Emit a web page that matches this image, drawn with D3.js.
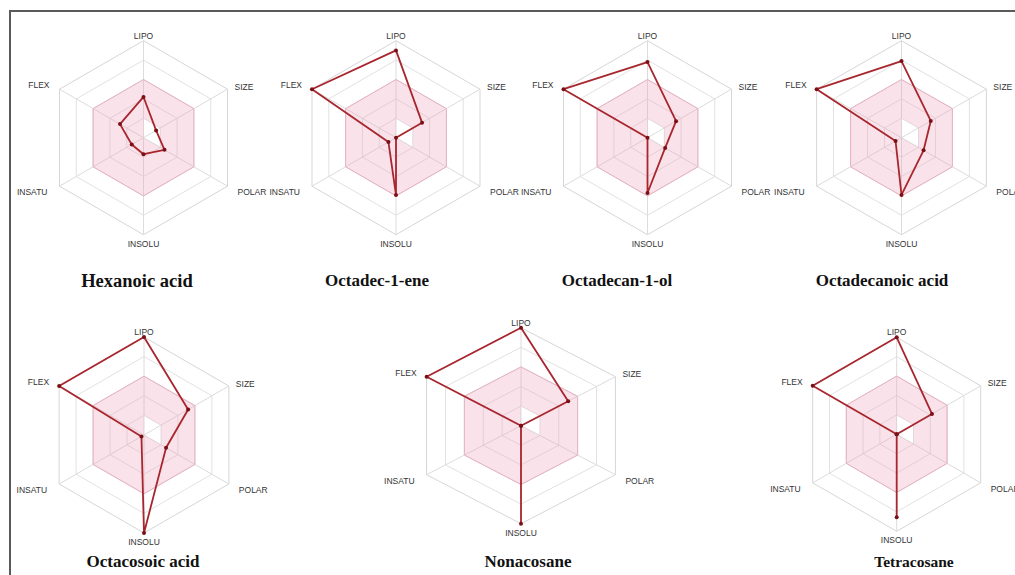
<!DOCTYPE html>
<html>
<head>
<meta charset="utf-8">
<script src="https://cdn.jsdelivr.net/npm/d3@7"></script>
<style>
  html, body { margin: 0; padding: 0; background: #fff; }
  svg { display: block; }
</style>
</head>
<body>
<script>
// radar axes, clockwise from top
const axes = ["LIPO", "SIZE", "POLAR", "INSOLU", "INSATU", "FLEX"];
const compounds = [
  "Hexanoic acid",
  "Octadec-1-ene",
  "Octadecan-1-ol",
  "Octadecanoic acid",
  "Octacosoic acid",
  "Nonacosane",
  "Tetracosane"
];

// values as a fraction of the outer ring (order follows axes)
const hexanoicAcid = [0.42, 0.15, 0.25, 0.17, 0.14, 0.28];
const octadec1ene = [0.9, 0.31, 0, 0.59, 0.09, 1.0];
const octadecan1ol = [0.78, 0.34, 0.21, 0.57, 0, 1.0];
const octadecanoicAcid = [0.79, 0.345, 0.26, 0.59, 0.07, 1.0];
const octacosoicAcid = [1.0, 0.52, 0.26, 1.0, 0.03, 1.0];
const nonacosane = [1.0, 0.5, 0, 1.0, 0, 1.0];
const tetracosane = [1.0, 0.42, 0, 0.855, 0, 1.0];

// optimal (pink) zone, inner and outer limits
const pinkInner = [0.2, 0.2, 0.2, 0, 0, 0];
const pinkOuter = [0.6, 0.6, 0.6, 0.6, 0.6, 0.6];
const rings = [0.2, 0.4, 0.6, 0.8, 1.0];

const series = [hexanoicAcid, octadec1ene, octadecan1ol, octadecanoicAcid,
  octacosoicAcid, nonacosane, tetracosane];

// panel layout: centre, radii, title position
const panels = [
  { cx: 143.5, cy: 137.7, rx: 97, ry: 97, tx: 137, ty: 287, ts: 18.5 },
  { cx: 396, cy: 137.7, rx: 97, ry: 97, tx: 377, ty: 286, ts: 17 },
  { cx: 647.5, cy: 137.7, rx: 97, ry: 97, tx: 617, ty: 286, ts: 17 },
  { cx: 901.5, cy: 137.7, rx: 98, ry: 97, tx: 882, ty: 286, ts: 17 },
  { cx: 144, cy: 435, rx: 98, ry: 98, tx: 143, ty: 566.5, ts: 17 },
  { cx: 521, cy: 425.7, rx: 109, ry: 98, tx: 528, ty: 566.5, ts: 17 },
  { cx: 896.7, cy: 434.3, rx: 97, ry: 97, tx: 914, ty: 566.5, ts: 15.5 }
];

// label placement for each axis
const labelPos = [
  { anchor: "middle", dx: 0, dy: -5 },
  { anchor: "start", dx: 7, dy: -2.5 },
  { anchor: "start", dx: 10, dy: 6 },
  { anchor: "middle", dx: 0, dy: 9 },
  { anchor: "end", dx: -12, dy: 6 },
  { anchor: "end", dx: -10, dy: -4 }
];

const width = 1015,
  height = 575;

const svg = d3
  .select("body")
  .append("svg")
  .attr("width", width)
  .attr("height", height);

// frame (top and left edges visible)
svg
  .append("path")
  .attr("d", `M10,${height + 5} L10,11 L${width + 5},11`)
  .attr("fill", "none")
  .attr("stroke", "#5a5a5a")
  .attr("stroke-width", 2);

const angle = d3
  .scaleLinear()
  .domain([0, axes.length])
  .range([0, 2 * Math.PI]);

const line = d3.line().curve(d3.curveLinearClosed);

panels.forEach((p, k) => {
  const sx = d3.scaleLinear().domain([0, 1]).range([0, p.rx]);
  const sy = d3.scaleLinear().domain([0, 1]).range([0, p.ry]);
  const pt = (v, i) => [
    p.cx + sx(v) * Math.sin(angle(i)),
    p.cy - sy(v) * Math.cos(angle(i))
  ];

  const g = svg.append("g");

  // grid rings
  g.selectAll(".ring")
    .data(rings)
    .enter()
    .append("path")
    .attr("d", (r) => line(axes.map((a, i) => pt(r, i))))
    .attr("fill", "none")
    .attr("stroke", (r) => (r === 1 ? "#d6d6d6" : "#e2e2e2"))
    .attr("stroke-width", 1);

  // axis spokes
  g.selectAll(".spoke")
    .data(axes)
    .enter()
    .append("line")
    .attr("x1", p.cx)
    .attr("y1", p.cy)
    .attr("x2", (a, i) => pt(1, i)[0])
    .attr("y2", (a, i) => pt(1, i)[1])
    .attr("stroke", "#dcdcdc")
    .attr("stroke-width", 1);

  // pink optimal zone with the inner hole
  const outerPts = pinkOuter.map((v, i) => pt(v, i));
  const innerPts = pinkInner.map((v, i) => pt(v, i));
  g.append("path")
    .attr("d", line(outerPts) + line(innerPts))
    .attr("fill", "#f0a0b8")
    .attr("fill-opacity", 0.3)
    .attr("fill-rule", "evenodd")
    .attr("stroke", "none");
  g.append("path")
    .attr("d", line(outerPts))
    .attr("fill", "none")
    .attr("stroke", "#e6b3c2")
    .attr("stroke-width", 1);

  // compound polygon
  const vals = series[k];
  g.append("path")
    .attr("d", line(vals.map((v, i) => pt(v, i))))
    .attr("fill", "none")
    .attr("stroke", "#a8262e")
    .attr("stroke-width", 1.8)
    .attr("stroke-linejoin", "round");

  g.selectAll(".dot")
    .data(vals)
    .enter()
    .append("circle")
    .attr("cx", (v, i) => pt(v, i)[0])
    .attr("cy", (v, i) => pt(v, i)[1])
    .attr("r", 2)
    .attr("fill", "#7a1016");

  // axis labels
  g.selectAll(".label")
    .data(axes)
    .enter()
    .append("text")
    .attr("x", (a, i) => pt(1, i)[0] + labelPos[i].dx)
    .attr("y", (a, i) => pt(1, i)[1] + labelPos[i].dy)
    .attr("text-anchor", (a, i) => labelPos[i].anchor)
    .attr("dominant-baseline", "central")
    .attr("font-family", "'Liberation Sans', Arial, sans-serif")
    .attr("font-size", 8.5)
    .attr("fill", "#333")
    .text((a) => a);

  // compound title
  g.append("text")
    .attr("x", p.tx)
    .attr("y", p.ty)
    .attr("text-anchor", "middle")
    .attr("font-family", "'Liberation Serif', 'Times New Roman', serif")
    .attr("font-weight", "bold")
    .attr("font-size", p.ts)
    .attr("fill", "#111")
    .text(compounds[k]);
});
</script>
</body>
</html>
